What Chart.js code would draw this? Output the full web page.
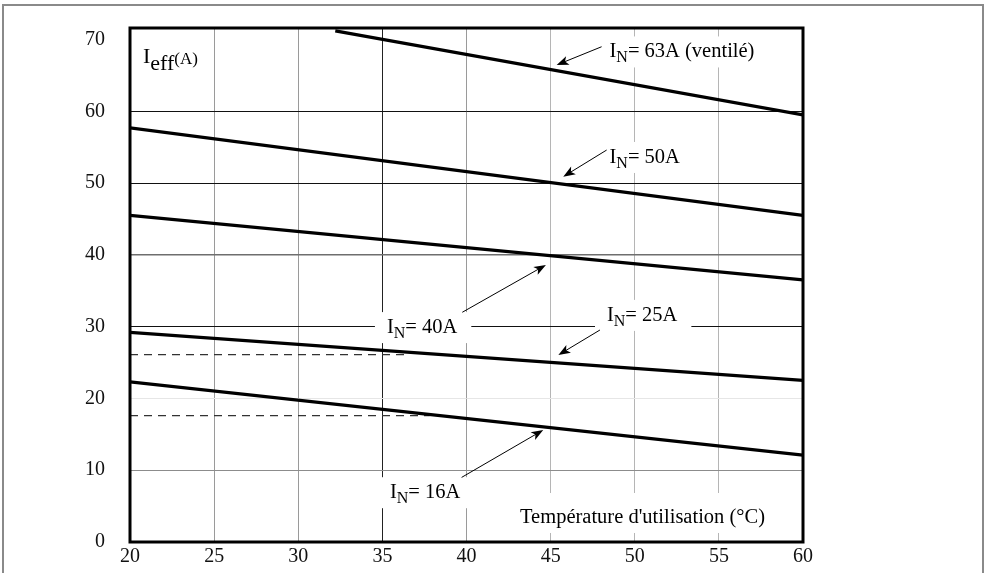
<!DOCTYPE html>
<html>
<head>
<meta charset="utf-8">
<script src="https://cdn.jsdelivr.net/npm/chart.js@4.4.0/dist/chart.umd.min.js"></script>
<style>
body { margin: 0; background: #fff; }
canvas { display: block; }
</style>
</head>
<body>
<canvas id="derating" width="986" height="573"></canvas>
<script>
// valeurs (température en °C, courant en A)
const temps = [20, 60];
const temps63 = [32.2, 60];
const courant63 = [71.2, 59.5];
const courant50 = [57.7, 45.5];
const courant40 = [45.5, 36.5];
const courant25 = [29.2, 22.5];
const courant16 = [22.3, 12.1];
const tempsPointille25 = [20, 36.4];
const pointille25 = [26.1, 26.1];
const tempsPointille16 = [20, 37.8];
const pointille16 = [17.6, 17.6];
const xTicks = [20, 25, 30, 35, 40, 45, 50, 55, 60];
const yTicks = [0, 10, 20, 30, 40, 50, 60, 70];

const SERIF = '"Liberation Serif", "DejaVu Serif", serif';

const points = (xs, ys) => xs.map((x, i) => ({x: x, y: ys[i]}));

// étiquettes avec flèche, en coordonnées du graphique
const etiquettes = [
    {texte: '= 63A (ventilé)', x: 48.5, y: 67.5, pointe: [45.36, 66.45], queue: [48.03, 68.99]},
    {texte: '= 50A', x: 48.5, y: 52.8, pointe: [45.75, 50.89], queue: [48.33, 54.6]},
    {texte: '= 40A', x: 35.27, y: 29.1, pointe: [44.72, 38.6], queue: [39.75, 32.0]},
    {texte: '= 25A', x: 48.35, y: 30.8, pointe: [45.46, 26.05], queue: [47.93, 29.53]},
    {texte: '= 16A', x: 35.45, y: 6.1, pointe: [44.56, 15.6], queue: [39.71, 9.0]}
];

function dessineMorceaux(ctx, x, y, morceaux) {
    ctx.textBaseline = 'alphabetic';
    ctx.textAlign = 'left';
    morceaux.forEach(m => {
        ctx.font = m.taille + 'px ' + SERIF;
        ctx.fillText(m.t, x, y + (m.dy || 0));
        x += ctx.measureText(m.t).width;
    });
    return x;
}

function largeur(ctx, morceaux) {
    let w = 0;
    morceaux.forEach(m => {
        ctx.font = m.taille + 'px ' + SERIF;
        w += ctx.measureText(m.t).width;
    });
    return w;
}

function morceauxIN(texte) {
    return [{t: 'I', taille: 20.5}, {t: 'N', taille: 16, dy: 5}, {t: texte, taille: 20.5}];
}

const morceauxTemp = [{t: "Température d'utilisation (°C)", taille: 20.5}];
const posTemp = {x: 43.18, y: 2.65};

const annotations = {
    id: 'annotations',
    beforeDraw(chart) {
        const ctx = chart.ctx;
        ctx.save();
        ctx.fillStyle = '#fff';
        ctx.fillRect(0, 0, chart.width, chart.height);
        ctx.strokeStyle = '#8a8a8a';
        ctx.lineWidth = 2;
        ctx.beginPath();
        ctx.moveTo(3, chart.height);
        ctx.lineTo(3, 5);
        ctx.lineTo(983, 5);
        ctx.lineTo(983, chart.height);
        ctx.stroke();
        ctx.restore();
    },
    beforeDatasetsDraw(chart) {
        // fonds blancs derrière les étiquettes (coupent la grille)
        const ctx = chart.ctx, xs = chart.scales.x, ys = chart.scales.y;
        ctx.save();
        ctx.fillStyle = '#fff';
        etiquettes.forEach(e => {
            const px = xs.getPixelForValue(e.x), py = ys.getPixelForValue(e.y);
            const w = largeur(ctx, morceauxIN(e.texte));
            ctx.fillRect(px - 12, py - 21, w + 26, 31);
        });
        const tx = xs.getPixelForValue(posTemp.x), ty = ys.getPixelForValue(posTemp.y);
        const tw = largeur(ctx, morceauxTemp);
        ctx.fillRect(tx - 8, ty - 30, tw + 16, 40);
        ctx.restore();
    },
    afterDatasetsDraw(chart) {
        const ctx = chart.ctx, xs = chart.scales.x, ys = chart.scales.y;
        const a = chart.chartArea;
        ctx.save();
        ctx.fillStyle = '#000';
        ctx.strokeStyle = '#000';

        etiquettes.forEach(e => {
            const x1 = xs.getPixelForValue(e.queue[0]), y1 = ys.getPixelForValue(e.queue[1]);
            const x2 = xs.getPixelForValue(e.pointe[0]), y2 = ys.getPixelForValue(e.pointe[1]);
            const ang = Math.atan2(y2 - y1, x2 - x1);
            ctx.lineWidth = 1;
            ctx.beginPath();
            ctx.moveTo(x1, y1);
            ctx.lineTo(x2 - 8 * Math.cos(ang), y2 - 8 * Math.sin(ang));
            ctx.stroke();
            ctx.beginPath();
            ctx.moveTo(x2, y2);
            ctx.lineTo(x2 - 12 * Math.cos(ang) + 4.5 * Math.sin(ang), y2 - 12 * Math.sin(ang) - 4.5 * Math.cos(ang));
            ctx.lineTo(x2 - 9 * Math.cos(ang), y2 - 9 * Math.sin(ang));
            ctx.lineTo(x2 - 12 * Math.cos(ang) - 4.5 * Math.sin(ang), y2 - 12 * Math.sin(ang) + 4.5 * Math.cos(ang));
            ctx.closePath();
            ctx.fill();

            dessineMorceaux(ctx, xs.getPixelForValue(e.x), ys.getPixelForValue(e.y), morceauxIN(e.texte));
        });

        dessineMorceaux(ctx, xs.getPixelForValue(posTemp.x), ys.getPixelForValue(posTemp.y), morceauxTemp);

        // titre de l'axe vertical
        dessineMorceaux(ctx, a.left + 13, a.top + 35, [
            {t: 'I', taille: 22}, {t: 'eff', taille: 22, dy: 7}, {t: '(A)', taille: 17, dy: 1}
        ]);

        // cadre épais du graphique
        ctx.lineWidth = 3;
        ctx.strokeRect(a.left, a.top, a.right - a.left, a.bottom - a.top);
        ctx.restore();
    }
};

const couleurGrilleY = {0: 'rgba(0,0,0,0)', 10: '#8c8c8c', 20: '#e6e6e6', 30: '#111', 40: '#6e6e6e', 50: '#111', 60: '#111', 70: 'rgba(0,0,0,0)'};
const couleurGrilleX = {20: 'rgba(0,0,0,0)', 25: '#9a9a9a', 30: '#9a9a9a', 35: '#222', 40: '#9a9a9a', 45: '#b5b5b5', 50: '#b5b5b5', 55: '#b5b5b5', 60: 'rgba(0,0,0,0)'};

const trait = (data, large) => ({
    data: data,
    showLine: true,
    borderColor: '#000',
    borderWidth: large ? 3.2 : 1.2,
    borderDash: large ? [] : [8, 6],
    pointRadius: 0,
    fill: false
});

new Chart(document.getElementById('derating'), {
    type: 'scatter',
    data: {
        datasets: [
            trait(points(temps63, courant63), true),
            trait(points(temps, courant50), true),
            trait(points(temps, courant40), true),
            trait(points(temps, courant25), true),
            trait(points(temps, courant16), true),
            Object.assign(trait(points(tempsPointille25, pointille25), false), {borderColor: '#333'}),
            Object.assign(trait(points(tempsPointille16, pointille16), false), {borderColor: '#333'})
        ]
    },
    options: {
        responsive: false,
        animation: false,
        events: [],
        layout: {padding: {top: 28, right: 183, bottom: 0, left: 0}},
        plugins: {
            legend: {display: false},
            tooltip: {enabled: false}
        },
        scales: {
            x: {
                type: 'linear',
                min: 20,
                max: 60,
                afterBuildTicks: s => { s.ticks = xTicks.map(v => ({value: v})); },
                afterFit: s => { s.height = 31; s.paddingLeft = 0; s.paddingRight = 0; },
                border: {display: false},
                grid: {
                    drawTicks: false,
                    lineWidth: 1,
                    color: c => couleurGrilleX[c.tick.value] || '#aaa'
                },
                ticks: {
                    padding: 3,
                    color: '#111',
                    font: {family: SERIF, size: 20}
                }
            },
            y: {
                type: 'linear',
                min: 0,
                max: 71.6,
                afterBuildTicks: s => { s.ticks = yTicks.map(v => ({value: v})); },
                afterFit: s => { s.width = 130; s.paddingTop = 0; s.paddingBottom = 0; },
                border: {display: false},
                grid: {
                    drawTicks: false,
                    lineWidth: c => c.tick.value === 40 ? 1.5 : 1,
                    color: c => couleurGrilleY[c.tick.value] || '#aaa'
                },
                ticks: {
                    padding: 25,
                    color: '#111',
                    font: {family: SERIF, size: 20}
                }
            }
        }
    },
    plugins: [annotations]
});
</script>
</body>
</html>
